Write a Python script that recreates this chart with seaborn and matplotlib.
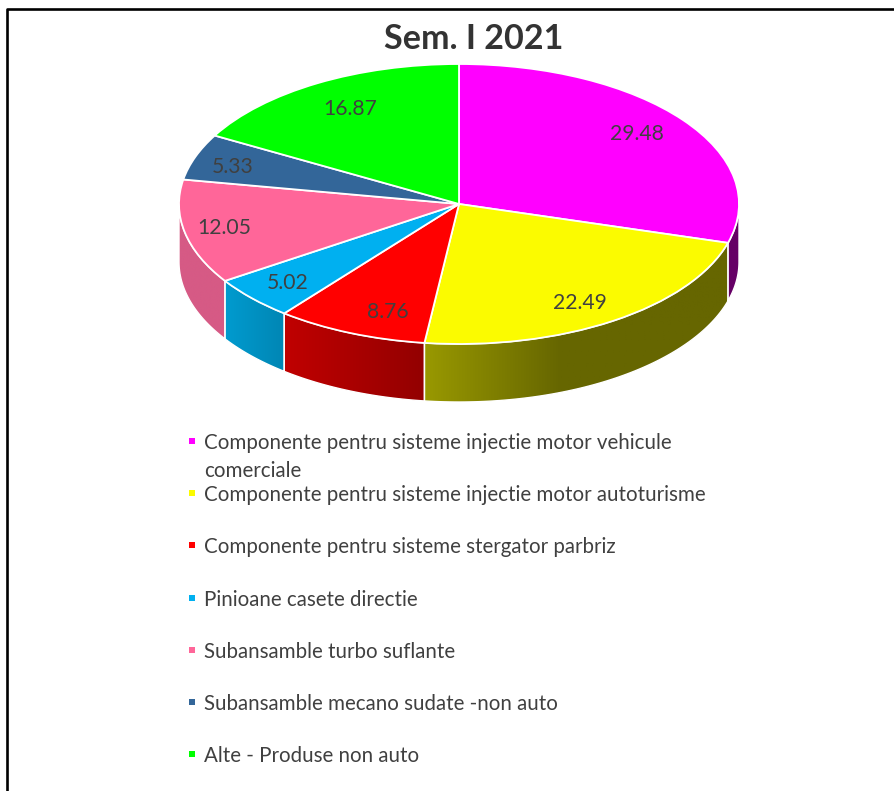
import numpy as np
import matplotlib
matplotlib.use("Agg")
import matplotlib.pyplot as plt
from matplotlib.colors import to_rgb
from matplotlib.patches import Polygon
import seaborn as sns

title = "Sem. I 2021"
categories = [
    "Componente pentru sisteme injectie motor vehicule\ncomerciale",
    "Componente pentru sisteme injectie motor autoturisme",
    "Componente pentru sisteme stergator parbriz",
    "Pinioane casete directie",
    "Subansamble turbo suflante",
    "Subansamble mecano sudate -non auto",
    "Alte - Produse non auto",
]
values = [29.48, 22.49, 8.76, 5.02, 12.05, 5.33, 16.87]
top_colors = ["#FF00FF", "#FBFB00", "#FF0000", "#00B0F0", "#FF6699", "#336699", "#00FF00"]
wall_left = ["#660066", "#999900", "#C00000", "#009BCF", "#D65A85", "#264d73", "#00aa00"]
wall_right = ["#660066", "#666600", "#930000", "#0086B4", "#D65A85", "#264d73", "#00aa00"]

# layout, in reference pixels
W, H = 894, 791
CX, CY, RX, RY, DEPTH = 459, 204, 280, 140, 58
label_nudge = [(-1, -3), (-2, 5), (16, 5), (-6, 4), (-15, 1), (-15, 1), (4, 2)]
legend_rows = [441, 493, 545, 598, 650, 702, 754]

sns.set_theme(style="white")
plt.rcParams["font.family"] = ["Lato", "DejaVu Sans"]
palette = sns.color_palette(top_colors)

fig = plt.figure(figsize=(W / 100, H / 100), dpi=100, facecolor="white")
ax = fig.add_axes([0, 0, 1, 1])
ax.pie(values, colors=palette, startangle=90, counterclock=False,
       wedgeprops=dict(edgecolor="white", linewidth=1.3))


def px(x):
    return (x - CX) / RX


def py(y):
    return (CY - y) / RY


xlim = (px(0), px(W))
ylim = (py(H), py(0))
d = DEPTH / RY

# side wall of the tilted disc, one gradient-filled band per slice
edges = np.cumsum([0] + values) / sum(values) * 360
for i in range(len(values)):
    a0, a1 = max(edges[i], 90), min(edges[i + 1], 270)
    if a1 <= a0:
        continue
    t = np.radians(np.linspace(a0, a1, 80))
    xs, ys = np.sin(t), np.cos(t)
    poly = np.r_[np.c_[xs, ys], np.c_[xs, ys - d][::-1]]
    left, right = np.array(to_rgb(wall_left[i])), np.array(to_rgb(wall_right[i]))
    span = np.clip(np.linspace(0, 1, 256) / (0.45 if i == 1 else 1), 0, 1)[:, None]
    grad = (left + (right - left) * span)[None, :, :]
    im = ax.imshow(grad, extent=(xs.min(), xs.max(), ys.min() - d, ys.max()),
                   aspect="auto", origin="lower", zorder=0.5)
    patch = Polygon(poly, closed=True, facecolor="none", edgecolor="white", linewidth=1.0, zorder=0.6)
    ax.add_patch(patch)
    im.set_clip_path(patch)

# value labels
mids = np.radians((edges[:-1] + edges[1:]) / 2)
for v, m, (dx, dy) in zip(values, mids, label_nudge):
    ax.text(0.8 * np.sin(m) + dx / RX, 0.8 * np.cos(m) - dy / RY, f"{v:.2f}",
            ha="center", va="center", fontsize=15.2, color="#404040", zorder=5)

ax.text(px(474), py(39), title, ha="center", va="center", fontsize=24.6,
        fontweight="bold", color="#333333")

# legend
for name, col, row in zip(categories, palette, legend_rows):
    ax.scatter(px(192), py(row), marker="s", s=24, color=col, linewidths=0, zorder=5)
    ax.text(px(204), py(row - 8), name, ha="left", va="top", fontsize=14.8,
            color="#404040", linespacing=1.5)

ax.set_aspect("auto")
ax.set_xlim(*xlim)
ax.set_ylim(*ylim)
ax.axis("off")

# outer frame
ax.plot([px(7), px(7), px(W)], [py(H), py(9), py(9)], color="black", lw=1.9, clip_on=False)

fig.savefig("out.png", dpi=100)
